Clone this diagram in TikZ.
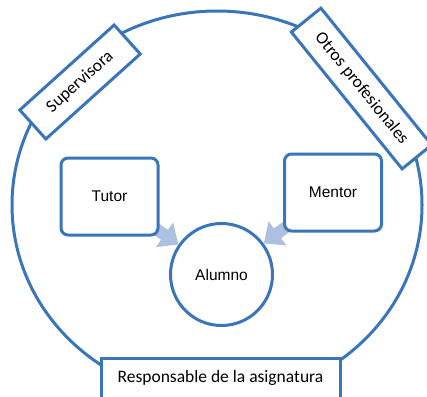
\documentclass[tikz,border=0pt]{standalone}
\usepackage{fontspec}
\setmainfont{Carlito}
\newfontfamily\arialf{Liberation Sans}
\usetikzlibrary{arrows.meta,backgrounds}
\definecolor{frame}{RGB}{58,117,185}
\definecolor{arrowfill}{RGB}{172,192,223}
\tikzset{
  bigtxt/.style={font=\fontsize{17.5}{20}\selectfont},
  smalltxt/.style={font=\arialf\fontsize{15.5}{18}\selectfont},
  rolebox/.style={draw=frame, line width=3pt, fill=white, inner sep=0pt, bigtxt},
  agentbox/.style={draw=frame, line width=3pt, fill=white, inner sep=0pt, rounded corners=7pt, smalltxt, minimum width=97pt, minimum height=77pt},
  studentnode/.style={draw=frame, line width=3pt, fill=white, circle, inner sep=0pt, minimum size=102pt, smalltxt},
  blockarrow/.style={draw=arrowfill, line width=12pt, -{Triangle[width=29pt,length=17pt]}}
}
\begin{document}
\begin{tikzpicture}[x=1pt,y=-1pt]
\useasboundingbox (0,0) rectangle (427,396);
\clip (0,0) rectangle (427,396);
\node[rolebox, minimum width=127pt, minimum height=39pt, rotate=42] (sup) at (80,82) {Supervisora};
\node[rolebox, minimum width=176pt, minimum height=38pt, rotate=-51] (otros) at (361.5,88.5) {Otros profesionales};
\node[rolebox, minimum width=239pt, minimum height=40pt] (resp) at (220.5,378) {Responsable de la asignatura};
\node[agentbox] (tutor) at (109.5,196.5) {Tutor};
\node[agentbox] (mentor) at (333,192.5) {Mentor};
\node[studentnode] (alumno) at (221.5,274.5) {Alumno};
\begin{pgfonlayer}{background}
\draw[frame, line width=3pt] (217,205) ellipse [x radius=205pt, y radius=194pt];
\draw[blockarrow] (tutor.center) -- (alumno);
\draw[blockarrow] (mentor.center) -- (alumno);
\end{pgfonlayer}
\end{tikzpicture}
\end{document}
